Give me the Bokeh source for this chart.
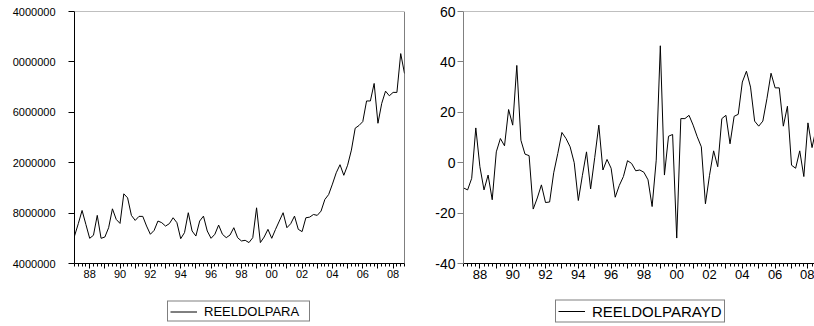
import pandas as pd
from bokeh.plotting import figure
from bokeh.models import FixedTicker, Span, Legend, LegendItem, Range1d, Spacer
from bokeh.layouts import row, column
from bokeh.embed import file_html
from bokeh.resources import INLINE

# Quarterly sample 1987Q1 - 2008Q4
periods = pd.period_range("1987Q1", "2008Q4", freq="Q")
x_dates = [p.year + (p.quarter - 1) / 4 for p in periods]

# REELDOLPARA (millions)
reeldolpara = [
    26.18, 27.16, 28.21, 27.10, 26.00, 26.24, 27.82, 26.00, 26.10, 26.84,
    28.34, 27.50, 27.18, 29.53, 29.21, 27.82, 27.42, 27.74, 27.74, 26.97,
    26.32, 26.63, 27.37, 27.24, 26.97, 27.16, 27.63, 27.24, 25.97, 26.45,
    28.03, 26.58, 26.18, 27.37, 27.76, 26.58, 26.00, 26.32, 27.05, 26.32,
    26.05, 26.26, 26.84, 26.05, 25.79, 25.84, 25.66, 26.05, 28.42, 25.66,
    26.10, 26.71, 26.00, 26.71, 27.37, 28.03, 26.84, 27.16, 27.76, 26.71,
    26.53, 27.63, 27.68, 27.89, 27.82, 28.16, 29.08, 29.47, 30.30, 31.20,
    31.84, 31.00, 31.80, 33.00, 34.74, 34.95, 35.26, 36.90, 36.90, 38.29,
    35.13, 36.71, 37.68, 37.31, 37.58, 37.58, 40.66, 39.08,
]

# REELDOLPARAYD (percent)
reeldolparayd = [
    -10.0, -10.8, -6.2, 13.8, -1.6, -10.8, -4.9, -14.7, 4.3, 9.6,
    6.7, 21.1, 14.9, 38.6, 8.9, 3.4, 2.8, -18.4, -14.0, -8.8,
    -15.8, -15.6, -4.0, 3.7, 12.0, 9.6, 6.3, 0.0, -15.0, -5.0,
    4.3, -10.4, 2.0, 14.9, -2.9, 1.3, -2.2, -13.7, -9.0, -5.5,
    0.8, -0.3, -3.2, -2.9, -3.8, -6.8, -17.4, 1.0, 46.4, -4.9,
    10.5, 11.2, -29.9, 17.5, 17.5, 18.8, 14.9, 10.3, 6.3, -16.3,
    -5.0, 4.7, -1.6, 17.5, 18.8, 7.5, 18.4, 19.2, 32.0, 36.3,
    30.0, 16.5, 14.5, 16.5, 25.4, 35.5, 29.7, 29.7, 14.5, 22.4,
    -1.0, -2.2, 4.7, -5.5, 15.8, 6.0, 13.6, 10.0,
]

year_ticks = list(range(1988, 2009))
year_labels = {y: (f"{y % 100:02d}" if y % 2 == 0 else "") for y in year_ticks}

left_yticks = [24, 28, 32, 36, 40, 44]
left_ylabels = ["4000000", "8000000", "2000000", "6000000", "0000000", "4000000"]
right_yticks = [-40, -20, 0, 20, 40, 60]
right_ylabels = ["-40", "-20", "0", "20", "40", "60"]

FONT = "Liberation Sans"
GREY = "#808080"


def style_xaxis(p, size):
    ax = p.xaxis[0]
    ax.ticker = FixedTicker(ticks=year_ticks, minor_ticks=x_dates)
    ax.major_label_overrides = year_labels
    ax.major_tick_out = 5
    ax.major_tick_in = 0
    ax.minor_tick_out = 3
    ax.minor_tick_in = 0
    ax.major_label_standoff = 1
    ax.major_label_text_font = FONT
    ax.major_label_text_font_size = size
    ax.major_label_text_color = "black"
    ax.axis_line_color = "black"
    ax.major_tick_line_color = "black"
    ax.minor_tick_line_color = "black"


def legend_strip(width, label, ys, size, lab_h, lab_w):
    # small strip holding the series key; its line lies outside the strip's ranges
    f = figure(width=width, height=30, output_backend="svg", toolbar_location=None,
               x_range=Range1d(0, 1), y_range=Range1d(0, 1),
               min_border_left=0, min_border_right=0, min_border_top=0,
               min_border_bottom=0)
    f.axis.visible = False
    f.grid.visible = False
    f.outline_line_color = None
    r = f.line(x_dates, ys, line_color="black", line_width=1)
    leg = Legend(items=[LegendItem(label=label, renderers=[r])],
                 location="center_left", border_line_color="black", border_line_width=1,
                 padding=2, margin=0, glyph_width=27, glyph_height=lab_h,
                 label_standoff=7, label_height=lab_h, label_width=lab_w,
                 label_text_font=FONT, label_text_font_size=size,
                 label_text_color="black",
                 background_fill_color="white", background_fill_alpha=1.0)
    f.add_layout(leg)
    return f


# ---- left panel ----
p1 = figure(width=420, height=296, output_backend="svg", toolbar_location=None,
            x_range=Range1d(x_dates[0], x_dates[-1]), y_range=Range1d(24, 44),
            min_border_left=74, min_border_right=16, min_border_top=9,
            min_border_bottom=33)
p1.line(x_dates, reeldolpara, line_color="black", line_width=1)
p1.grid.visible = False
p1.outline_line_color = None
style_xaxis(p1, "11px")
ya = p1.yaxis[0]
ya.ticker = FixedTicker(ticks=left_yticks, minor_ticks=[])
ya.major_label_overrides = {t: l for t, l in zip(left_yticks, left_ylabels)}
ya.major_tick_out = 6
ya.major_tick_in = 0
ya.major_label_standoff = 13
ya.major_label_text_font = FONT
ya.major_label_text_font_size = "11px"
ya.major_label_text_color = "black"
ya.axis_line_color = "black"
ya.major_tick_line_color = "black"
p1.add_layout(Span(location=44, dimension="width", line_color=GREY, line_width=1))
p1.add_layout(Span(location=x_dates[-1], dimension="height", line_color="black", line_width=1))

# ---- right panel ----
p2 = figure(width=394, height=296, output_backend="svg", toolbar_location=None,
            x_range=Range1d(x_dates[0], 2008.40), y_range=Range1d(-40, 60),
            min_border_left=43, min_border_right=0, min_border_top=11,
            min_border_bottom=32)
p2.line(x_dates, reeldolparayd, line_color="black", line_width=1)
p2.grid.visible = False
p2.outline_line_color = None
style_xaxis(p2, "13px")
yb = p2.yaxis[0]
yb.ticker = FixedTicker(ticks=right_yticks, minor_ticks=[])
yb.major_label_overrides = {t: l for t, l in zip(right_yticks, right_ylabels)}
yb.major_tick_out = 6
yb.major_tick_in = 0
yb.major_label_standoff = 2
yb.major_label_text_font = FONT
yb.major_label_text_font_size = "14px"
yb.major_label_text_color = "black"
yb.axis_line_color = GREY
yb.major_tick_line_color = GREY
p2.add_layout(Span(location=60, dimension="width", line_color=GREY, line_width=1))

l1 = legend_strip(388, "REELDOLPARA", reeldolpara, "13px", 14, 103)
l2 = legend_strip(259, "REELDOLPARAYD", reeldolparayd, "15px", 15, 60)

layout = column(row(p1, p2), row(Spacer(width=167, height=30), l1, l2))
open("out.html", "w").write(file_html(layout, INLINE))
